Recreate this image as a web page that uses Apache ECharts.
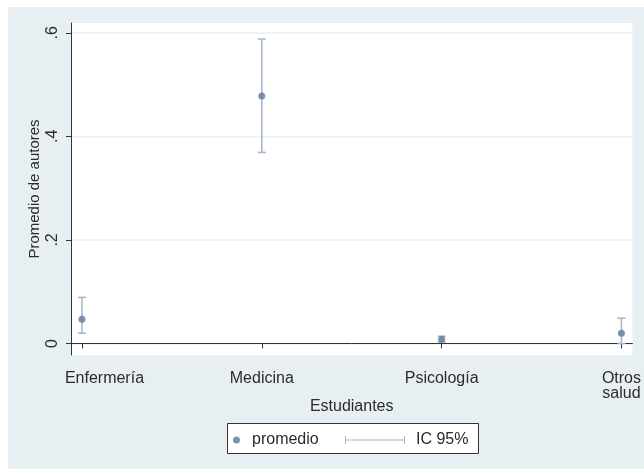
<!DOCTYPE html>
<html>
<head>
<meta charset="utf-8">
<script src="https://cdn.jsdelivr.net/npm/echarts@6/dist/echarts.min.js"></script>
<style>
html,body{margin:0;padding:0;background:#fff;}
#chart{width:644px;height:469px;}
</style>
</head>
<body>
<div id="chart"></div>
<script>
// Data
const categories = ['Enfermería', 'Medicina', 'Psicología', 'Otros\nsalud'];
const categoryPositions = [1, 2, 3, 4];
const promedio = [0.047, 0.478, 0.008, 0.020];
const icLower = [0.020, 0.369, 0.003, 0.000];
const icUpper = [0.089, 0.588, 0.014, 0.049];
const yTicks = [0, 0.2, 0.4, 0.6];
const yTickLabels = ['0', '.2', '.4', '.6'];
const seriesNames = ['promedio', 'IC 95%'];

const FONT = 'Liberation Sans, Arial, sans-serif';
const TXT = '#2b2b2b';
const MARK = '#5b7b98';
const CI = '#a3b8cb';

const scatterData = categoryPositions.map((x, i) => [x, promedio[i]]);
const ciData = categoryPositions.map((x, i) => [x, icLower[i], icUpper[i]]);

const chart = echarts.init(document.getElementById('chart'));
chart.setOption({
  animation: false,
  backgroundColor: '#ffffff',
  textStyle: { fontFamily: FONT },
  graphic: [
    { type: 'rect', z: -100, shape: { x: 8, y: 7, width: 636, height: 462 }, style: { fill: '#e8eff2' }, silent: true },
    { type: 'rect', z: 1, shape: { x: 227.5, y: 423.5, width: 251, height: 30 }, style: { fill: '#ffffff', stroke: '#333', lineWidth: 1 }, silent: true }
  ],
  grid: {
    left: 71, right: 9, top: 23, bottom: 114,
    show: true, backgroundColor: '#ffffff', borderWidth: 0, containLabel: false
  },
  xAxis: {
    type: 'value',
    min: 0.939, max: 4.061,
    name: 'Estudiantes',
    nameLocation: 'middle',
    nameGap: 44,
    nameMoveOverlap: false,
    nameTextStyle: { fontSize: 16, color: TXT, fontFamily: FONT },
    axisLine: { show: true, lineStyle: { color: '#333', width: 1 } },
    axisTick: { show: true, length: 5, lineStyle: { color: '#333' }, customValues: categoryPositions },
    axisLabel: {
      customValues: categoryPositions,
      formatter: v => {
        const i = categoryPositions.indexOf(Math.round(v));
        if (i < 0) return '';
        return i === 0 ? '{first|' + categories[i] + '}' : categories[i];
      },
      rich: { first: { fontSize: 16, color: TXT, fontFamily: FONT, padding: [0, 0, 0, 45] } },
      fontSize: 16, color: TXT, fontFamily: FONT, margin: 16, lineHeight: 15
    },
    splitLine: { show: false }
  },
  yAxis: {
    type: 'value',
    min: -0.0222, max: 0.619,
    name: 'Promedio de autores',
    nameLocation: 'middle',
    nameRotate: 90,
    nameGap: 29,
    nameMoveOverlap: false,
    nameTextStyle: { fontSize: 15, color: TXT, fontFamily: FONT },
    axisLine: { show: true, lineStyle: { color: '#333', width: 1 } },
    axisTick: { show: true, length: 5, lineStyle: { color: '#333' }, customValues: yTicks },
    axisLabel: {
      customValues: yTicks,
      rotate: 90,
      formatter: v => yTickLabels[yTicks.findIndex(t => Math.abs(t - v) < 1e-6)] ?? '',
      fontSize: 16, color: TXT, fontFamily: FONT, margin: 10
    },
    splitLine: { show: true, lineStyle: { color: '#e8eff1', width: 1.5 } }
  },
  legend: [
    {
      data: [seriesNames[0]],
      left: 228, top: 427,
      itemWidth: 7, itemHeight: 7,
      icon: 'circle',
      textStyle: { fontSize: 16, color: TXT, fontFamily: FONT, padding: [0, 0, 0, 7] },
      selectedMode: false, z: 5
    },
    {
      data: [seriesNames[1]],
      left: 340, top: 427,
      itemWidth: 60, itemHeight: 8,
      icon: 'path://M0,0h1v8h-1z M0,3.5h60v1h-60z M59,0h1v8h-1z',
      itemStyle: { color: CI },
      textStyle: { fontSize: 16, color: TXT, fontFamily: FONT, padding: [0, 0, 0, 6] },
      selectedMode: false, z: 5
    }
  ],
  series: [
    {
      name: seriesNames[1],
      type: 'custom',
      itemStyle: { color: CI },
      data: ciData,
      encode: { x: 0, y: [1, 2] },
      renderItem: function (params, api) {
        const x = api.value(0);
        const lo = api.coord([x, api.value(1)]);
        const hi = api.coord([x, api.value(2)]);
        const cap = 4;
        const style = { stroke: CI, lineWidth: 1.6 };
        return {
          type: 'group',
          children: [
            { type: 'line', shape: { x1: lo[0], y1: lo[1], x2: hi[0], y2: hi[1] }, style: style },
            { type: 'line', shape: { x1: lo[0] - cap, y1: lo[1], x2: lo[0] + cap, y2: lo[1] }, style: style },
            { type: 'line', shape: { x1: hi[0] - cap, y1: hi[1], x2: hi[0] + cap, y2: hi[1] }, style: style }
          ]
        };
      },
      z: 3
    },
    {
      name: seriesNames[0],
      type: 'scatter',
      symbol: 'circle',
      symbolSize: 7,
      itemStyle: { color: MARK },
      data: scatterData,
      z: 4
    }
  ]
});
</script>
</body>
</html>
